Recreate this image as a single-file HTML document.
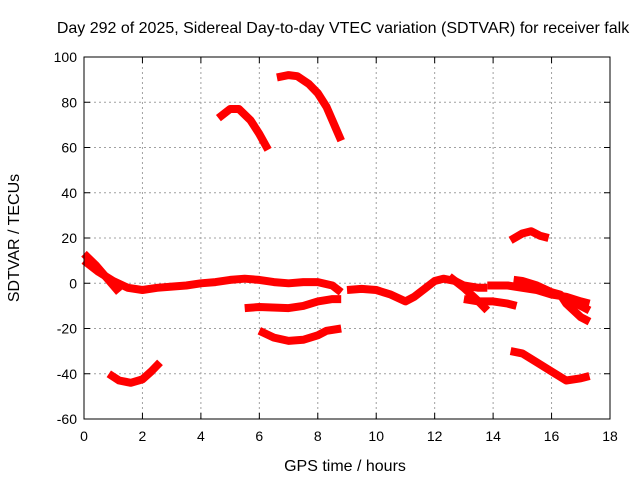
<!DOCTYPE html>
<html><head><meta charset="utf-8"><style>
body{margin:0;background:#fff}
svg{display:block;font-family:"Liberation Sans",sans-serif;font-size:14px}
</style></head><body>
<svg id="chart" width="640" height="480">
<text x="343" y="33" text-anchor="middle" font-size="16">Day 292 of 2025, Sidereal Day-to-day VTEC variation (SDTVAR) for receiver falk</text>
<text x="345" y="471" text-anchor="middle" font-size="16">GPS time / hours</text>
<text transform="translate(19,238) rotate(-90)" text-anchor="middle" font-size="16">SDTVAR / TECUs</text>
<g id="grid"></g><g id="ticks"></g><g id="series"></g>
<rect x="84" y="57" width="526" height="362" fill="none" stroke="#000" stroke-width="1"/>
</svg>
<script>
const xTicks=[0,2,4,6,8,10,12,14,16,18];
const yTicks=[-60,-40,-20,0,20,40,60,80,100];
const trackHours=[
[0,0.5,1,1.5,2,2.5,3,3.5,4,4.5,5,5.5,6,6.5,7,7.5,8,8.5,8.8],
[0,0.4,0.8,1.2],
[9.0,9.5,10,10.5,11,11.3,11.7,12,12.3,12.7,13,13.5,13.8],
[12.5,13,13.5,13.8],
[13,13.5,14,14.5,14.8],
[13.8,14.5,15,15.5,16,16.5,17,17.3],
[14.7,15,15.5,16,16.3,16.5,17,17.3],
[16.5,17,17.3],
[14.6,15,15.3,15.6,15.9],
[14.6,15,15.5,16,16.5,17,17.3],
[5.5,6,7,7.5,8,8.5,8.8],
[6,6.5,7,7.5,8,8.3,8.8],
[0.85,1.2,1.6,2,2.3,2.6],
[4.6,5,5.3,5.7,6,6.3],
[6.6,7,7.3,7.7,8,8.3,8.6,8.8]
];
const trackValues=[
[10,5,1,-2,-3,-2,-1.5,-1,0,0.5,1.5,2,1.5,0.5,0,0.5,0.5,-1,-4],
[13,8,2,-4],
[-3,-2.5,-3,-5,-8,-6,-2,1,2,1,-1,-2,-2],
[3,-2,-8,-12],
[-7,-8,-8,-9,-10],
[-1,-1,-2,-3,-5,-6,-8,-9],
[1.5,1,-1,-4,-5,-9,-15,-17],
[-7,-10,-12],
[19,22,23,21,20],
[-30,-31,-35,-39,-43,-42,-41],
[-11,-10.5,-11,-10,-8,-7,-7],
[-21,-24,-25.5,-25,-23,-21,-20],
[-40,-43,-44,-42.5,-39,-35],
[73,77,77,72,66,59],
[91,92,91.5,88,84,78,69,63]
];
const NS="http://www.w3.org/2000/svg";
const X0=84,X1=610,Y0=419,Y1=57;
const px=h=>X0+(h-0)/(18-0)*(X1-X0);
const py=v=>Y0-(v+60)/160*(Y0-Y1);
const grid=document.getElementById('grid'),ticks=document.getElementById('ticks'),ser=document.getElementById('series');
function mk(tag,at,parent){const e=document.createElementNS(NS,tag);for(const k in at)e.setAttribute(k,at[k]);parent.appendChild(e);return e;}
xTicks.forEach(t=>{const x=px(t);
 if(t>0&&t<18){const l=mk('line',{x1:x,x2:x,y1:Y0,y2:Y1,stroke:'#a0a0a0','stroke-dasharray':'2,3'},grid);
 
 }
 mk('line',{x1:x,x2:x,y1:Y0,y2:Y0-6,stroke:'#000'},ticks);mk('line',{x1:x,x2:x,y1:Y1,y2:Y1+6,stroke:'#000'},ticks);
 const tx=mk('text',{x:x,y:Y0+22,'text-anchor':'middle'},ticks);tx.textContent=t;
 
 });
yTicks.forEach(t=>{const y=py(t);
 if(t>-60&&t<100){const l=mk('line',{x1:X0,x2:X1,y1:y,y2:y,stroke:'#a0a0a0','stroke-dasharray':'2,3'},grid);
 
 }
 mk('line',{x1:X0,x2:X0+6,y1:y,y2:y,stroke:'#000'},ticks);mk('line',{x1:X1,x2:X1-6,y1:y,y2:y,stroke:'#000'},ticks);
 const tx=mk('text',{x:X0-7,y:y+5,'text-anchor':'end'},ticks);tx.textContent=t;
 
 });
trackHours.forEach((hs,i)=>{const vs=trackValues[i];
 const pts=hs.map((h,j)=>px(h).toFixed(1)+','+py(vs[j]).toFixed(1)).join(' ');
 const p=mk('polyline',{points:pts,fill:'none',stroke:'#ff0000','stroke-width':8,'stroke-linejoin':'round','stroke-linecap':'butt'},ser);
 
 });
</script>
</body></html>
